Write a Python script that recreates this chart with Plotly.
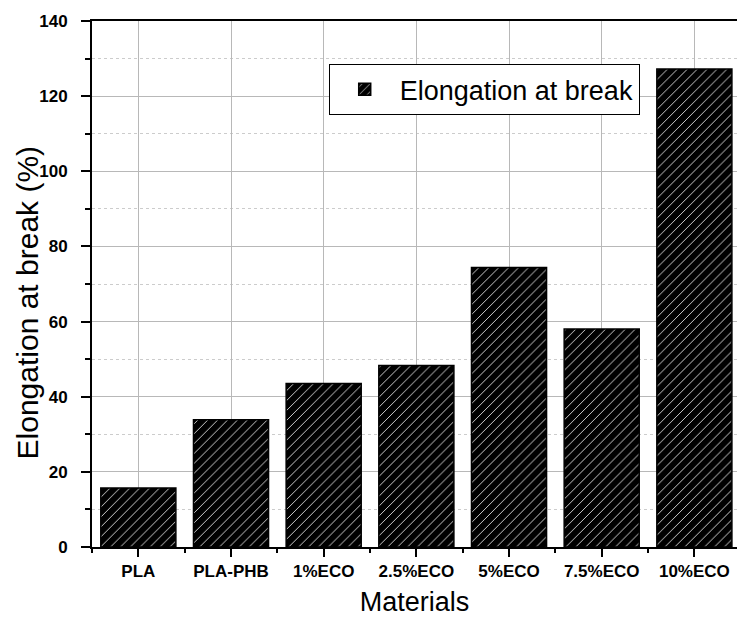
import plotly.graph_objects as go

materials = ["PLA", "PLA-PHB", "1%ECO", "2.5%ECO", "5%ECO", "7.5%ECO", "10%ECO"]
elongation = [15.7, 33.9, 43.5, 48.3, 74.4, 58.0, 127.2]
y_ticks = [0, 20, 40, 60, 80, 100, 120, 140]

FONT = "Arial, Liberation Sans, sans-serif"
xpos = list(range(len(materials)))

fig = go.Figure()
fig.add_trace(go.Bar(
    x=xpos, y=elongation, name="Elongation at break",
    width=0.81,
    marker=dict(color="black", line=dict(color="black", width=1.5),
                pattern=dict(shape="/", bgcolor="black", fgcolor="#f0f0f0",
                             size=7, solidity=0.12, fillmode="replace")),
    showlegend=True,
))

fig.update_layout(
    width=737, height=621,
    margin=dict(l=92, r=0, t=21, b=74),
    plot_bgcolor="white", paper_bgcolor="white",
    font=dict(family=FONT, color="black"),
    showlegend=True,
    legend=dict(x=0.367, y=0.918, xanchor="left", yanchor="top",
                bordercolor="black", borderwidth=1, bgcolor="white",
                font=dict(size=27, family=FONT, color="black"),
                itemwidth=60, tracegroupgap=0),
    bargap=0.19,
    annotations=[dict(text="Elongation at break (%)", textangle=-90,
                      xref="paper", yref="paper", x=-0.1, y=0.464,
                      xanchor="center", yanchor="middle", showarrow=False,
                      font=dict(size=30, family=FONT, color="black"))],
)
fig.update_xaxes(
    range=[-0.5, 6.46],
    tickmode="array", tickvals=xpos, ticktext=materials,
    tickfont=dict(size=17, family=FONT, color="black", weight="bold"),
    ticks="outside", ticklen=8, tickwidth=2, tickcolor="black",
    showline=True, linecolor="black", linewidth=2, mirror=True,
    showgrid=True, gridcolor="#b8b8b8", gridwidth=1,
    minor=dict(tick0=0.5, dtick=1, ticks="outside", ticklen=4, tickwidth=2,
               tickcolor="black", showgrid=False),
    title=dict(text="Materials", font=dict(size=27, family=FONT, color="black"), standoff=12),
    zeroline=False,
)
fig.update_yaxes(
    range=[0, 140],
    tickmode="array", tickvals=y_ticks,
    tickfont=dict(size=17, family=FONT, color="black", weight="bold"),
    ticks="outside", ticklen=9, tickwidth=2, tickcolor="black",
    ticklabelstandoff=10,
    showline=True, linecolor="black", linewidth=2,
    showgrid=True, gridcolor="#b8b8b8", gridwidth=1,
    minor=dict(tick0=0, dtick=10, ticks="outside", ticklen=5, tickwidth=2,
               tickcolor="black", showgrid=True, gridcolor="#cccccc",
               griddash="dot", gridwidth=1),
    zeroline=False,
)

fig.write_html("out.html")
